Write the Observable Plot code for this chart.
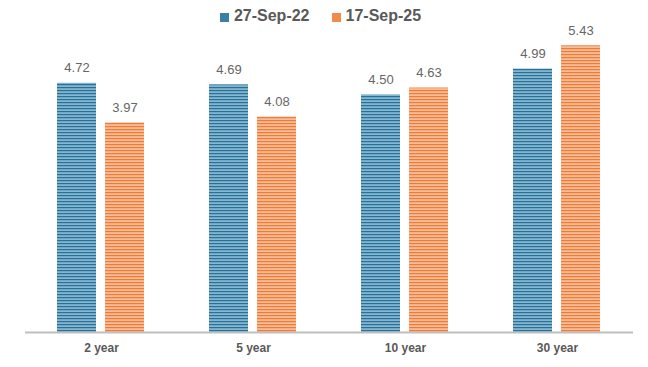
<!DOCTYPE html>
<html>
<head>
<meta charset="utf-8">
<script src="https://cdn.jsdelivr.net/npm/d3@7"></script>
<script src="https://cdn.jsdelivr.net/npm/@observablehq/plot@0.6"></script>
<style>
  body { margin: 0; background: #fff; font-family: "Liberation Sans", Arial, sans-serif; }
  #legend { height: 16px; padding-top: 8px; display: flex; justify-content: center; align-items: center;
            padding-right: 7px; font-weight: bold; font-size: 16px; color: #595959; }
  #legend .item { display: flex; align-items: center; margin: 0 11px; }
  #legend .sw { width: 9px; height: 9px; margin-right: 5px; margin-top: 2px; }
  g[aria-label^="fx-axis"] text { font-weight: bold; }
</style>
</head>
<body>
<div id="legend"></div>
<div id="chart"></div>
<script>
const categories = ["2 year", "5 year", "10 year", "30 year"];
const seriesNames = ["27-Sep-22", "17-Sep-25"];
const values2022 = [4.72, 4.69, 4.50, 4.99];
const values2025 = [3.97, 4.08, 4.63, 5.43];

const seriesFill = {"27-Sep-22": "url(#stripeBlue)", "17-Sep-25": "url(#stripeOrange)"};
const swatch = {"27-Sep-22": "#3A7FA6", "17-Sep-25": "#F28A4C"};

const data = categories.flatMap((c, i) => [
  {cat: c, series: seriesNames[0], value: values2022[i]},
  {cat: c, series: seriesNames[1], value: values2025[i]}
]);

const legend = document.getElementById("legend");
for (const s of seriesNames) {
  const it = document.createElement("div");
  it.className = "item";
  it.innerHTML = `<span class="sw" style="background:${swatch[s]}"></span><span>${s}</span>`;
  legend.appendChild(it);
}

const chart = Plot.plot({
  width: 648,
  height: 343,
  marginLeft: 23,
  marginRight: 14,
  marginTop: 0,
  marginBottom: 35,
  style: {fontFamily: "'Liberation Sans', Arial, sans-serif", background: "#fff"},
  fx: {domain: categories, padding: 0, axis: "bottom", label: null, tickSize: 0, tickPadding: 11, fontSize: 12},
  x: {domain: seriesNames, axis: null, paddingInner: 0.1856, paddingOuter: 0.668},
  y: {domain: [0, 308 / 52.8], axis: null},
  color: {type: "identity"},
  marks: [
    Plot.barY(data, {fx: "cat", x: "series", y: "value", fill: d => seriesFill[d.series]}),
    Plot.ruleY([0], {stroke: "#BFBFBF", strokeWidth: 2}),
    Plot.text(data, {fx: "cat", x: "series", y: "value", text: d => d.value.toFixed(2),
      lineAnchor: "bottom", dy: -11, fill: "#666666", fontSize: 13})
  ]
});

const ns = "http://www.w3.org/2000/svg";
const defs = document.createElementNS(ns, "defs");
defs.innerHTML = `
  <pattern id="stripeBlue" width="4" height="3" patternUnits="userSpaceOnUse">
    <rect width="4" height="3" fill="#82B6D1"/>
    <rect width="4" height="1.2" fill="#2B6F95"/>
  </pattern>
  <pattern id="stripeOrange" width="4" height="3" patternUnits="userSpaceOnUse">
    <rect width="4" height="3" fill="#F9BC98"/>
    <rect width="4" height="1.2" fill="#EF7B36"/>
  </pattern>`;
chart.prepend(defs);
chart.querySelectorAll('g[aria-label^="fx-axis"] text').forEach(t => { t.setAttribute("font-weight", "bold"); t.setAttribute("fill", "#595959"); });
const fxg = chart.querySelector('g[aria-label^="fx-axis"]');
if (fxg) { fxg.setAttribute("font-size", "12"); fxg.setAttribute("fill", "#595959"); }
document.getElementById("chart").appendChild(chart);
</script>
</body>
</html>
